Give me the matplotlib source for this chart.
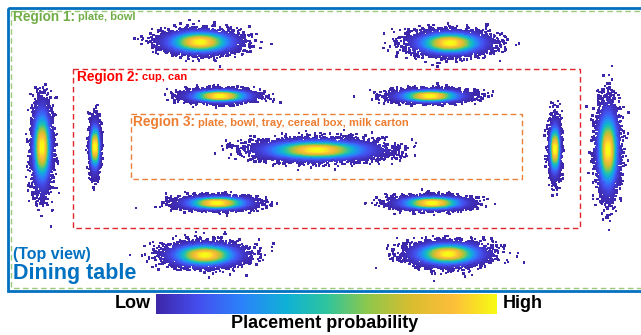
import numpy as np
import matplotlib
matplotlib.use("Agg")
import matplotlib.pyplot as plt
from matplotlib.colors import LinearSegmentedColormap
from matplotlib.cm import ScalarMappable
from matplotlib.colors import Normalize
from matplotlib.patches import Rectangle

plt.rcParams['font.family'] = ['Liberation Sans', 'DejaVu Sans']

# cluster parameters (top-view pixel coordinates)
centers_x = [200, 450, 220, 430, 217, 432, 317, 95, 555, 42, 608, 205, 448]
centers_y = [42, 43, 96, 96, 203, 203, 150, 147, 149, 147, 150, 255, 254]
spread_x = [19, 19, 17, 18, 18, 18, 30, 2.5, 2.7, 4.8, 5.6, 19, 19]
spread_y = [6.0, 6.0, 3.2, 3.2, 3.4, 3.4, 5.3, 12.5, 13.5, 21, 22, 6.0, 6.0]
counts = [4200, 4200, 3500, 3500, 3500, 3500, 6000, 2800, 2800, 4200, 4200, 4200, 4200]

# region boxes: left, top, right, bottom
region_boxes = {
    'Region 1': (11, 11, 660, 288),
    'Region 2': (73, 69, 580, 228),
    'Region 3': (131, 114, 522, 179),
}
region_names = ['Region 1:', 'Region 2:', 'Region 3:']
region_items = ['plate, bowl', 'cup, can', 'plate, bowl, tray, cereal box, milk carton']

# MATLAB parula-like map
parula = LinearSegmentedColormap.from_list('parula', [
    (0.00, (0.24, 0.15, 0.66)),
    (0.12, (0.27, 0.30, 0.93)),
    (0.25, (0.17, 0.51, 0.98)),
    (0.38, (0.06, 0.69, 0.84)),
    (0.50, (0.18, 0.77, 0.62)),
    (0.62, (0.55, 0.78, 0.30)),
    (0.75, (0.85, 0.74, 0.18)),
    (0.87, (0.99, 0.74, 0.23)),
    (1.00, (0.97, 0.98, 0.08)),
])

fig = plt.figure(figsize=(6.41, 3.35), dpi=100)
ax = fig.add_axes([0, 0, 1, 1])
ax.set_xlim(0, 641)
ax.set_ylim(335, 0)
ax.axis('off')

rng = np.random.default_rng(7)
xs, ys, vals = [], [], []
for cx, cy, sx, sy, n in zip(centers_x, centers_y, spread_x, spread_y, counts):
    u = rng.standard_normal((n, 2))
    xs.append(cx + sx * u[:, 0])
    ys.append(cy + sy * u[:, 1])
    vals.append(np.exp(-0.7 * (u ** 2).sum(axis=1)))
xs = np.concatenate(xs)
ys = np.concatenate(ys)
vals = np.concatenate(vals)
order = np.argsort(vals)
ax.scatter(xs[order], ys[order], c=vals[order], cmap=parula, vmin=0, vmax=1,
           s=3, marker='s', linewidths=0)

# table outline
ax.add_patch(Rectangle((8, 8), 660, 283, fill=False, ec='#0070C0', lw=2.0))

box_colors = ['#9BCB7A', '#E0262B', '#E8803A']
for (name, (l, t, r, b)), col in zip(region_boxes.items(), box_colors):
    ax.add_patch(Rectangle((l, t), r - l, b - t, fill=False, ec=col, lw=1.0,
                           linestyle=(0, (4, 2.5))))

text_colors = ['#70AD47', '#FF0000', '#ED7D31']
label_pos = [(13, 17), (77, 77), (133, 122)]
for name, items, col, (x, y) in zip(region_names, region_items, text_colors, label_pos):
    t = ax.text(x, y, name, color=col, fontsize=9.8, fontweight='bold', va='center')
    fig.canvas.draw()
    bb = t.get_window_extent().transformed(ax.transData.inverted())
    ax.text(bb.x1 + 3, y + 0.5, items, color=col, fontsize=8, fontweight='bold', va='center')

ax.text(13, 255, '(Top view)', color='#0070C0', fontsize=11.5, fontweight='bold', va='center')
ax.text(13, 274, 'Dining table', color='#0070C0', fontsize=15.5, fontweight='bold', va='center')

# colour bar
cax = fig.add_axes([156 / 641, 1 - 314 / 335, 341 / 641, 20 / 335])
cb = fig.colorbar(ScalarMappable(norm=Normalize(0, 1), cmap=parula), cax=cax,
                  orientation='horizontal')
cb.set_ticks([])
cb.outline.set_visible(False)
ax.text(151, 304, 'Low', fontsize=13, fontweight='bold', ha='right', va='center')
ax.text(503, 304, 'High', fontsize=13, fontweight='bold', ha='left', va='center')
ax.text(325, 324, 'Placement probability', fontsize=13, fontweight='bold',
        ha='center', va='center')

fig.savefig('out.png', dpi=100)
